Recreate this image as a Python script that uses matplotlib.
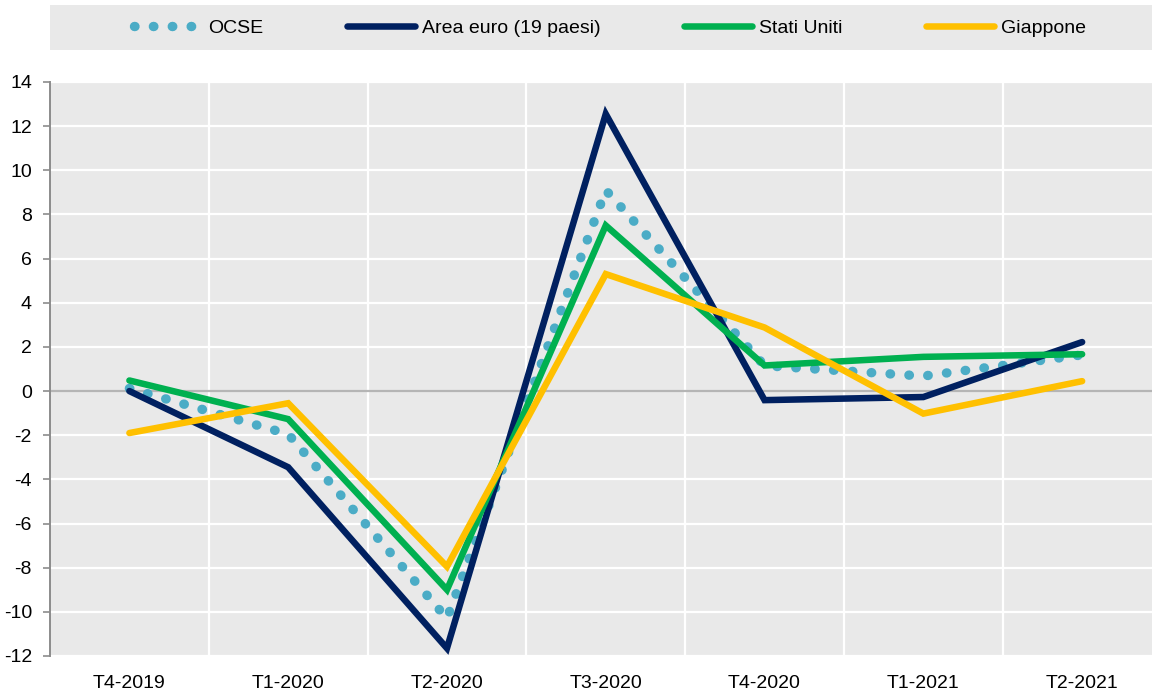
import matplotlib
matplotlib.use("Agg")
import matplotlib.pyplot as plt
from matplotlib.patches import Rectangle
import numpy as np

plt.rcParams['font.family'] = ['Liberation Sans Narrow', 'Liberation Sans', 'DejaVu Sans']

categories = ["T4-2019", "T1-2020", "T2-2020", "T3-2020", "T4-2020", "T1-2021", "T2-2021"]
ocse = [0.12, -1.95, -10.3, 9.1, 1.15, 0.68, 1.64]
area_euro = [0.0, -3.45, -11.65, 12.55, -0.41, -0.27, 2.22]
stati_uniti = [0.48, -1.27, -9.0, 7.5, 1.16, 1.55, 1.67]
giappone = [-1.9, -0.55, -7.95, 5.3, 2.88, -1.02, 0.45]

yticks = list(range(-12, 15, 2))

fig = plt.figure(figsize=(11.52, 6.96), dpi=100)
fig.patch.set_facecolor('white')

ax = fig.add_axes([50/1152, 1-656/696, 1-50/1152, (656-82)/696])
ax.set_facecolor('#e9e9e9')
x = np.arange(len(categories))

# grid
for yv in yticks:
    if yv != 0:
        ax.axhline(yv, color='white', lw=1.6, zorder=1)
for xv in x[:-1] + 0.5:
    ax.axvline(xv, color='white', lw=1.6, zorder=1)
ax.axhline(0, color='#b5b5b5', lw=1.6, zorder=1.5)

l1, = ax.plot(x, ocse, color='#4bacc6', lw=6.8, linestyle=(0, (0.05, 1.95)),
              dash_capstyle='round', zorder=3, label='OCSE')
l2, = ax.plot(x, area_euro, color='#002060', lw=4.7, solid_capstyle='round',
              solid_joinstyle='miter', zorder=4, label='Area euro (19 paesi)')
l3, = ax.plot(x, stati_uniti, color='#00b050', lw=4.7, solid_capstyle='round',
              solid_joinstyle='miter', zorder=5, label='Stati Uniti')
l4, = ax.plot(x, giappone, color='#ffc000', lw=4.7, solid_capstyle='round',
              solid_joinstyle='miter', zorder=6, label='Giappone')

ax.set_xlim(-0.5, 6.44)
ax.set_ylim(-12, 14)
ax.set_yticks(yticks)
ax.set_yticklabels([str(v) for v in yticks])
ax.set_xticks(x)
ax.set_xticklabels(categories)
ax.tick_params(axis='x', length=0, pad=14, labelsize=14)
ax.tick_params(axis='y', length=5, width=1.2, color='#8c8c8c', pad=8, labelsize=14, direction='out')
for s in ['top', 'right', 'bottom']:
    ax.spines[s].set_visible(False)
ax.spines['left'].set_color('#8c8c8c')
ax.spines['left'].set_linewidth(1.4)

# legend band
fig.patches.append(Rectangle((50/1152, 1-50/696), 1-50/1152, 45/696,
                             transform=fig.transFigure, facecolor='#e9e9e9',
                             edgecolor='none', zorder=0))
leg = fig.legend(handles=[l1, l2, l3, l4], loc='center', ncol=4,
                 bbox_to_anchor=(610/1152, 1-28/696), frameon=False,
                 fontsize=14, handlelength=3.5, handletextpad=0.35,
                 columnspacing=4.3, borderaxespad=0)

fig.savefig('out.png', dpi=100, facecolor='white')
